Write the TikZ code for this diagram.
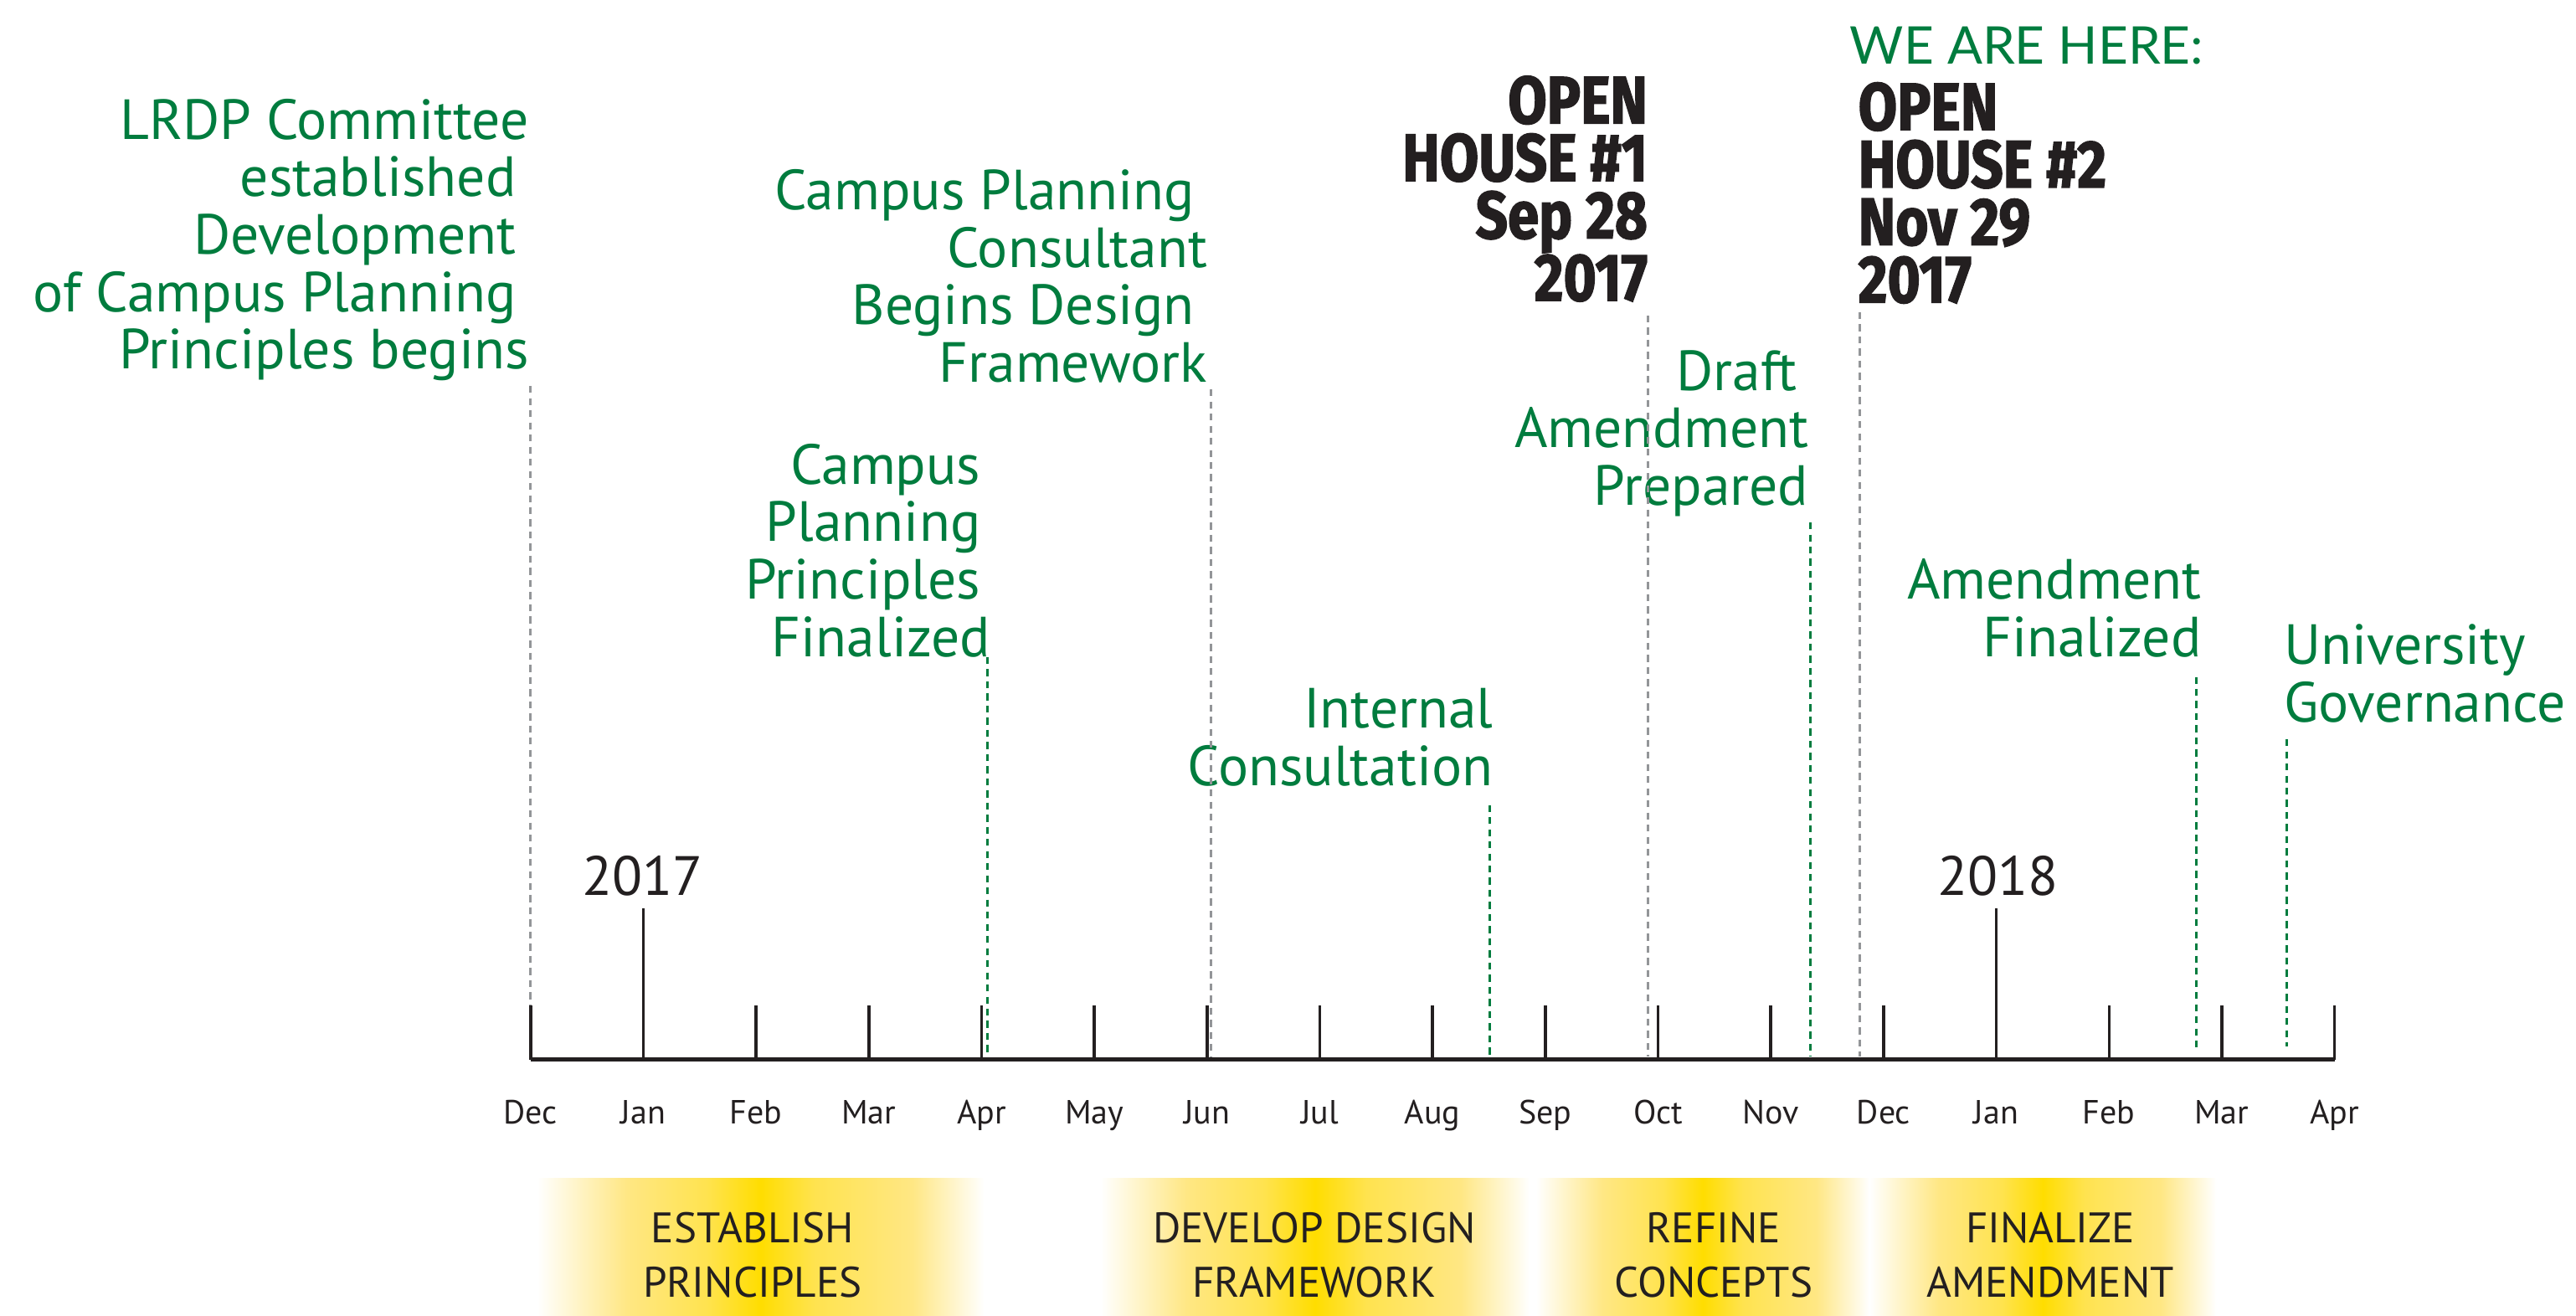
\documentclass[tikz,border=0pt]{standalone}
\usepackage{fontspec}
\setmainfont{PT Sans}
\newfontfamily\ohfont[FakeStretch=0.84,BoldFeatures={FakeBold=1.8}]{Fira Sans}
\newfontfamily\herefont{Lato}
\definecolor{tlgreen}{RGB}{0,124,62}
\definecolor{tlblack}{RGB}{35,31,32}
\definecolor{tlgray}{RGB}{147,149,152}
\definecolor{paley}{RGB}{255,231,132}
\definecolor{goldy}{RGB}{255,221,0}
\pgfdeclarehorizontalshading{phaseshade}{100bp}{color(0bp)=(white); color(25bp)=(white); color(35bp)=(paley); color(44bp)=(paley!60!goldy); color(50bp)=(goldy); color(56bp)=(paley!60!goldy); color(67bp)=(paley); color(75bp)=(white); color(100bp)=(white)}
\tikzset{
  event/.style={text=tlgreen, font=\fontsize{49}{49.8}\selectfont, inner sep=0pt},
  evR/.style={event, align=right, anchor=north east},
  evL/.style={event, align=left, anchor=north west},
  ohtext/.style={text=tlblack, font=\ohfont\bfseries\fontsize{58}{49.8}\selectfont, inner sep=0pt},
  heretext/.style={text=tlgreen, font=\herefont\fontsize{45}{50}\selectfont, inner sep=0pt, anchor=north west},
  month/.style={text=tlblack, font=\fontsize{29}{30}\selectfont, anchor=base, inner sep=0pt},
  yearlbl/.style={text=tlblack, font=\fontsize{48}{50}\selectfont, anchor=base, inner sep=0pt},
  phase/.style={text=tlblack, font=\fontsize{37}{47}\selectfont, align=center, inner sep=0pt, anchor=north},
  phasebar/.style={shading=phaseshade, draw=none},
  axisline/.style={line width=3.6pt, tlblack},
  tickline/.style={line width=2.5pt, tlblack},
  graylead/.style={line width=2.2pt, tlgray, dash pattern=on 6pt off 4.5pt},
  greenlead/.style={line width=2.2pt, tlgreen, dash pattern=on 6pt off 4.5pt},
}
\begin{document}
\begin{tikzpicture}[x=0.5mm,y=-0.5mm]
\useasboundingbox (0,0) rectangle (1568,801);
% phase bars
\shade[phasebar] (327,717) rectangle (599,801);
\shade[phasebar] (670,717) rectangle (931,801);
\shade[phasebar] (935,717) rectangle (1138,801);
\shade[phasebar] (1138,717) rectangle (1349,801);
\node[phase] (p1) at (458,738) {ESTABLISH\\PRINCIPLES};
\node[phase] (p2) at (800,738) {DEVELOP DESIGN\\FRAMEWORK};
\node[phase] (p3) at (1043,738) {REFINE\\CONCEPTS};
\node[phase] (p4) at (1248,738) {FINALIZE\\AMENDMENT};
% event texts
\node[evR] (e1) at (322,60) {LRDP Committee\\established\kern11pt\\Development\kern11pt\\of Campus Planning\kern11pt\\Principles begins};
\node[evR] (e2) at (735,103) {Campus Planning\kern11pt\\Consultant\\Begins Design\kern11pt\\Framework};
\node[evR] (e3) at (603,270) {Campus\kern8.5pt\\Planning\kern8.5pt\\Principles\kern8.5pt\\Finalized};
\node[evR] (e4) at (909,419) {Internal\\Consultation};
\node[evR] (e5) at (1101,213) {Draft\kern10pt\\Amendment\\Prepared};
\node[evR] (e6) at (1340,340) {Amendment\\Finalized};
\node[evL] (e7) at (1390,380) {University\\Governance};
% open houses
\node[ohtext, align=right, anchor=north east] (oh1) at (1003,46) {OPEN\\HOUSE \#1\\Sep 28\\2017};
\node[heretext] (here) at (1126,16) {WE ARE HERE:};
\node[ohtext, align=left, anchor=north west] (oh2) at (1131,50) {OPEN\\HOUSE \#2\\Nov 29\\2017};
% leader lines
\coordinate (g1t) at (323,235); \coordinate (g1b) at (323,612);
\coordinate (n1t) at (601,400); \coordinate (n1b) at (601,643);
\coordinate (g2t) at (737,237); \coordinate (g2b) at (737,643);
\coordinate (n2t) at (907,490); \coordinate (n2b) at (907,643);
\coordinate (g3t) at (1003,192); \coordinate (g3b) at (1003,643);
\coordinate (n3t) at (1102,318); \coordinate (n3b) at (1102,643);
\coordinate (g4t) at (1132,190); \coordinate (g4b) at (1132,643);
\coordinate (n4t) at (1337,412); \coordinate (n4b) at (1337,640);
\coordinate (n5t) at (1392,450); \coordinate (n5b) at (1392,637);
\draw[graylead] (g1t) -- (g1b);
\draw[graylead] (g2t) -- (g2b);
\draw[graylead] (g3t) -- (g3b);
\draw[graylead] (g4t) -- (g4b);
\draw[greenlead] (n1t) -- (n1b);
\draw[greenlead] (n2t) -- (n2b);
\draw[greenlead] (n3t) -- (n3b);
\draw[greenlead] (n4t) -- (n4b);
\draw[greenlead] (n5t) -- (n5b);
% axis
\coordinate (ax0) at (323,645); \coordinate (ax1) at (1421,645);
\foreach \i/\m in {0/Dec,1/Jan,2/Feb,3/Mar,4/Apr,5/May,6/Jun,7/Jul,8/Aug,9/Sep,10/Oct,11/Nov,12/Dec,13/Jan,14/Feb,15/Mar,16/Apr}{
  \coordinate (t\i) at ({323+\i*68.625},645);
  \node[month] (m\i) at ({323+\i*68.625},684) {\m};
}
\foreach \i in {0,2,3,4,5,6,7,8,9,10,11,12,14,15,16}{
  \draw[tickline] (t\i) -- ++(0,-33);
}
\draw[tickline] (t1) -- ++(0,-92);
\draw[tickline] (t13) -- ++(0,-92);
\draw[axisline] (ax0) -- (ax1);
\node[yearlbl] (y1) at (391,545) {2017};
\node[yearlbl] (y2) at (1216,545) {2018};
\end{tikzpicture}
\end{document}
